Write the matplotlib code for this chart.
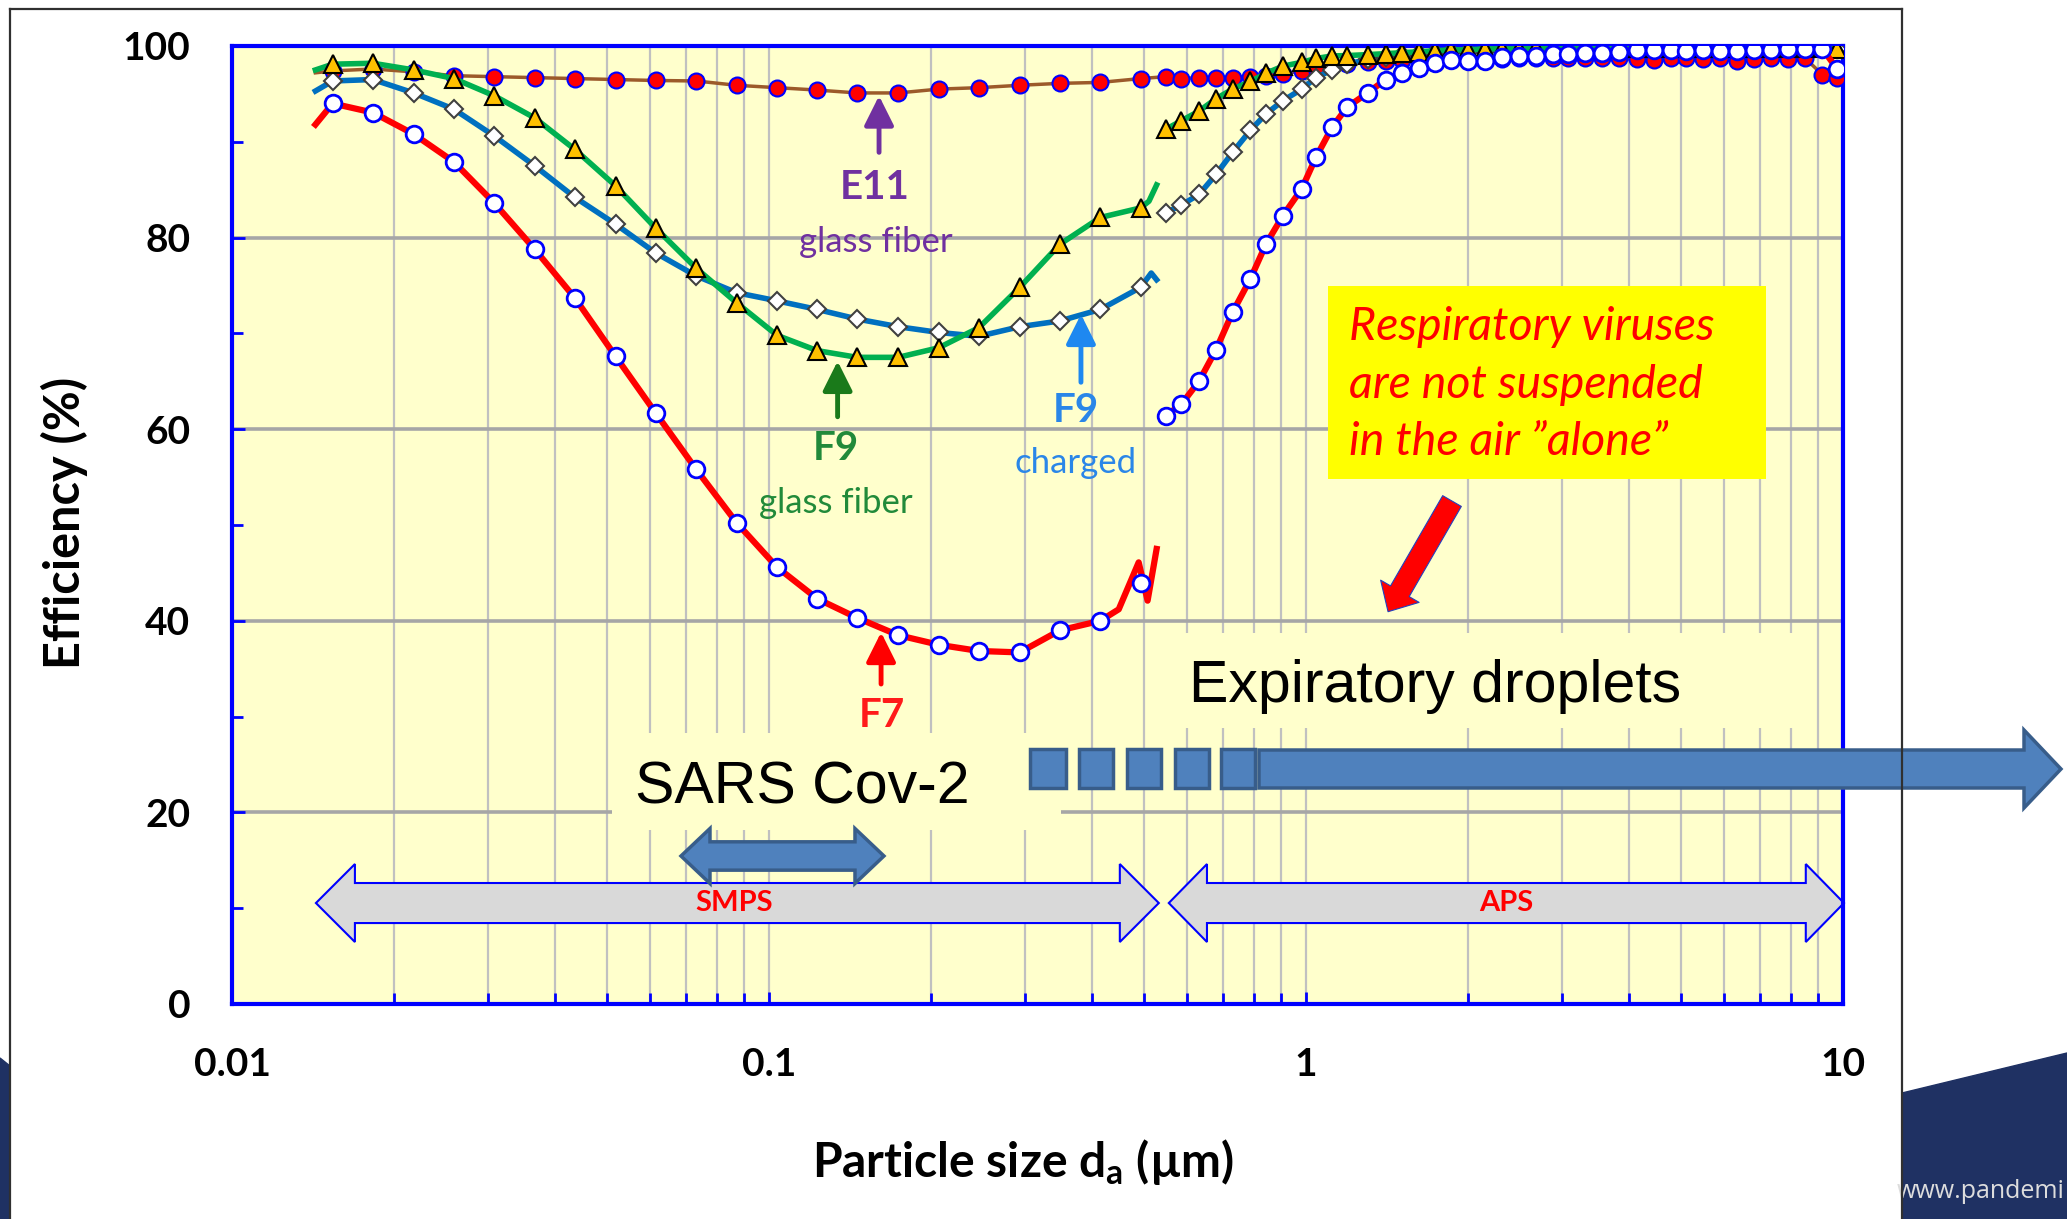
import matplotlib.pyplot as plt
from matplotlib.patches import Polygon, Rectangle, FancyArrowPatch
from matplotlib.lines import Line2D
from matplotlib.ticker import FixedLocator, LogLocator, NullFormatter

plt.rcParams['font.family'] = ['Lato', 'DejaVu Sans']
plt.rcParams['mathtext.fontset'] = 'custom'
plt.rcParams['mathtext.rm'] = 'Lato:bold'

# ---- data ----
# SMPS size channels (um)
smps_d = [0.0154, 0.0183, 0.0218, 0.0259, 0.0308, 0.0366, 0.0435, 0.0518, 0.0615,
          0.0732, 0.0870, 0.1035, 0.123, 0.146, 0.174, 0.207, 0.246, 0.293, 0.348,
          0.414, 0.492]
e11_smps = [97.4, 97.6, 97.3, 96.9, 96.8, 96.7, 96.6, 96.5, 96.4, 96.35, 95.9, 95.65,
            95.4, 95.1, 95.1, 95.5, 95.65, 95.9, 96.1, 96.2, 96.6]
f9c_smps = [96.35, 96.5, 95.1, 93.4, 90.6, 87.5, 84.2, 81.4, 78.4, 76.0, 74.25, 73.4,
            72.5, 71.5, 70.7, 70.1, 69.7, 70.7, 71.3, 72.5, 74.8]
f9g_smps = [98.1, 98.2, 97.5, 96.6, 94.8, 92.5, 89.2, 85.4, 81.0, 76.8, 73.2, 69.8,
            68.2, 67.5, 67.5, 68.5, 70.6, 74.8, 79.3, 82.1, 83.1]
f7_smps = [94.0, 93.05, 90.8, 87.9, 83.6, 78.8, 73.7, 67.6, 61.7, 55.8, 50.25, 45.6,
           42.3, 40.3, 38.5, 37.5, 36.85, 36.7, 39.0, 40.0, 43.9]

# line ends outside the marker channels
line_start_d = 0.0143
e11_start, f9c_start, f9g_start, f7_start = 97.2, 95.3, 97.5, 91.8
f7_tail_d = [0.448, 0.488, 0.507, 0.527]
f7_tail = [41.2, 46.1, 42.1, 47.5]
f9g_tail_d = [0.510, 0.527]
f9g_tail = [83.8, 85.5]
f9c_tail_d = [0.515, 0.527]
f9c_tail = [76.3, 75.6]

# APS size channels (um)
aps_d = [0.548, 0.586, 0.632, 0.680, 0.730, 0.788, 0.842, 0.906, 0.982, 1.044, 1.118,
         1.192, 1.302, 1.407, 1.508, 1.623, 1.735, 1.860, 2.001, 2.153, 2.317, 2.495,
         2.685, 2.888, 3.076, 3.311, 3.562, 3.835, 4.127, 4.441, 4.779, 5.091, 5.477,
         5.897, 6.345, 6.830, 7.346, 7.909, 8.511, 9.158, 9.754]
e11_aps = [96.8, 96.6, 96.7, 96.7, 96.7, 96.8, 96.9, 97.1, 97.4, 97.7, 97.9, 98.1,
           98.3, 98.4, 98.5, 98.5, 98.6, 98.6, 98.6, 98.6, 98.6, 98.7, 98.7, 98.7,
           98.7, 98.7, 98.7, 98.7, 98.6, 98.5, 98.7, 98.7, 98.6, 98.7, 98.4, 98.6,
           98.7, 98.6, 98.7, 97.0, 96.7]
f9c_aps = [82.6, 83.4, 84.5, 86.6, 88.9, 91.2, 92.9, 94.3, 95.5, 96.7, 97.5, 98.1,
           98.6, 98.9, 99.1, 99.2, 99.3, 99.4, 99.4, 99.5, 99.5, 99.5, 99.6, 99.6,
           99.6, 99.6, 99.6, 99.6, 99.7, 99.7, 99.7, 99.7, 99.7, 99.7, 99.7, 99.7,
           99.7, 99.7, 99.7, 99.7, 99.7]
f9g_aps = [91.3, 92.2, 93.2, 94.5, 95.5, 96.3, 97.15, 97.9, 98.3, 98.7, 98.96, 99.0,
           99.1, 99.2, 99.3, 99.4, 99.5, 99.6, 99.6, 99.7, 99.7, 99.7, 99.8, 99.8,
           99.8, 99.8, 99.8, 99.8, 99.8, 99.8, 99.8, 99.8, 99.8, 99.8, 99.8, 99.8,
           99.8, 99.8, 99.8, 99.8, 99.7]
f7_aps = [61.4, 62.6, 65.0, 68.3, 72.2, 75.7, 79.3, 82.3, 85.1, 88.4, 91.5, 93.6,
          95.1, 96.5, 97.15, 97.7, 98.2, 98.5, 98.4, 98.45, 98.8, 98.96, 99.0, 99.2,
          99.2, 99.24, 99.24, 99.4, 99.6, 99.6, 99.6, 99.5, 99.6, 99.5, 99.5, 99.6,
          99.6, 99.7, 99.7, 99.7, 97.6]

x_ticks = [0.01, 0.1, 1, 10]
x_tick_labels = ['0.01', '0.1', '1', '10']
y_ticks = [0, 20, 40, 60, 80, 100]

W, H = 2067, 1219
fig = plt.figure(figsize=(W / 100, H / 100), dpi=100)
fig.patch.set_facecolor('white')
ax = fig.add_axes([232 / W, 1 - 1004 / H, 1611 / W, 958 / H])
ax.set_facecolor('#FFFFCC')


def fpt(x, y):
    # pixel position on the slide -> figure fraction
    return (x / W, 1 - y / H)


# ---- slide decoration ----
fig.add_artist(Polygon([fpt(1902, 1093), fpt(2067, 1053), fpt(2067, 1219), fpt(1902, 1219)],
                       closed=True, transform=fig.transFigure, color='#1F3163', zorder=0))
fig.add_artist(Polygon([fpt(0, 1058), fpt(10, 1066), fpt(10, 1219), fpt(0, 1219)],
                       closed=True, transform=fig.transFigure, color='#1F3163', zorder=0))
fig.text(1897 / W, 1 - 1198 / H, 'www.pandemi', color='#DDDDDD', fontsize=18,
         family=['Open Sans', 'DejaVu Sans'], ha='left', va='baseline')

# ---- axes ----
ax.set_xscale('log')
ax.set_xlim(0.01, 10)
ax.set_ylim(0, 100)
ax.xaxis.set_major_locator(FixedLocator(x_ticks))
ax.set_xticklabels(x_tick_labels)
ax.xaxis.set_minor_locator(LogLocator(base=10, subs=range(2, 10)))
ax.xaxis.set_minor_formatter(NullFormatter())
ax.set_yticks(y_ticks)
ax.set_yticks([10, 30, 50, 70, 90], minor=True)
ax.set_axisbelow(True)
ax.grid(which='both', axis='x', color='#C0C0C0', lw=1.6)
ax.grid(which='major', axis='y', color='#A6A6A6', lw=2.6)
for s in ax.spines.values():
    s.set_color('#0000FF')
    s.set_linewidth(3)
ax.tick_params(axis='both', which='both', direction='in', color='#0000FF', width=2,
               labelsize=28, labelcolor='black')
ax.tick_params(axis='both', which='major', length=9)
ax.tick_params(axis='both', which='minor', length=8)
ax.tick_params(axis='y', pad=30)
ax.tick_params(axis='x', pad=31)
for lab in ax.get_xticklabels() + ax.get_yticklabels():
    lab.set_fontweight('bold')

fig.text(0.0314, 0.571, 'Efficiency (%)', rotation=90, ha='center', va='center',
         fontsize=35, fontweight='bold')
fig.text(1023 / W, 0.0468, r'Particle size d$_\mathrm{a}$ (µm)', ha='center', va='center',
         fontsize=34.5, fontweight='bold')

# ---- background boxes ----
ax.add_patch(Rectangle((0.2356, 0.1816), 0.279, 0.1013, transform=ax.transAxes,
                       facecolor='#FFFFCC', edgecolor='none', zorder=1))
ax.add_patch(Rectangle((0.576, 0.2881), 0.4035, 0.0992, transform=ax.transAxes,
                       facecolor='#FFFFCC', edgecolor='none', zorder=1))
ax.add_patch(Rectangle((0.6806, 0.548), 0.2715, 0.2015, transform=ax.transAxes,
                       facecolor='#FFFF00', edgecolor='none', zorder=1))


def darrow(x0, x1, yc, hb, hh, hl, **kw):
    pts = [(x0, yc), (x0 + hl, yc + hh), (x0 + hl, yc + hb), (x1 - hl, yc + hb),
           (x1 - hl, yc + hh), (x1, yc), (x1 - hl, yc - hh), (x1 - hl, yc - hb),
           (x0 + hl, yc - hb), (x0 + hl, yc - hh)]
    ax.add_patch(Polygon(pts, closed=True, transform=ax.transAxes, clip_on=False, **kw))


darrow(0.0521, 0.5753, 0.1054, 0.0209, 0.0407, 0.0242,
       facecolor='#D9D9D9', edgecolor='#0000FF', lw=1.5, zorder=1.5)
darrow(0.5815, 1.0006, 0.1054, 0.0209, 0.0407, 0.0237,
       facecolor='#D9D9D9', edgecolor='#0000FF', lw=1.5, zorder=1.5)
darrow(0.2787, 0.4047, 0.1545, 0.0148, 0.0287, 0.018,
       facecolor='#4F81BD', edgecolor='#385D8A', lw=2.5, zorder=2)
ax.text(0.3117, 0.1054, 'SMPS', transform=ax.transAxes, color='#FF0000', fontsize=21,
        fontweight='bold', ha='center', va='center', zorder=2)
ax.text(0.7908, 0.1054, 'APS', transform=ax.transAxes, color='#FF0000', fontsize=21,
        fontweight='bold', ha='center', va='center', zorder=2)

ax.text(0.2502, 0.2098, 'SARS Cov-2', transform=ax.transAxes, fontsize=42.5,
        family=['Liberation Sans', 'DejaVu Sans'], ha='left', va='baseline', zorder=2)
ax.text(0.594, 0.3156, 'Expiratory droplets', transform=ax.transAxes, fontsize=42.5,
        family=['Liberation Sans', 'DejaVu Sans'], ha='left', va='baseline', zorder=2)

resp_lines = ['Respiratory viruses', 'are not suspended', 'in the air \u201dalone\u201d']
for txt, yb in zip(resp_lines, [0.6931, 0.6326, 0.5731]):
    ax.text(0.6934, yb, txt, transform=ax.transAxes, color='#FF0000', fontsize=33.5,
            style='italic', ha='left', va='baseline', zorder=2)

ax.add_patch(FancyArrowPatch((0.7573, 0.525), (0.7176, 0.4095), transform=ax.transAxes,
                             arrowstyle='simple,head_length=1.7,head_width=3.2,tail_width=1.55',
                             mutation_scale=10, shrinkA=0, shrinkB=0,
                             facecolor='#FF0000', edgecolor='#2040C0', lw=0.8, zorder=2))

# droplet size arrow (runs off the chart to the right)
for x0, x1 in [(1029.5, 1066), (1078.6, 1113), (1126.8, 1161), (1174.5, 1209), (1220.5, 1255)]:
    fig.add_artist(Rectangle(fpt(x0, 788), (x1 - x0) / W, 39 / H, transform=fig.transFigure,
                             facecolor='#4F81BD', edgecolor='#385D8A', lw=2.5, zorder=2))
fig.add_artist(Polygon([fpt(1259, 750), fpt(2024, 750), fpt(2024, 730), fpt(2061, 769),
                        fpt(2024, 808), fpt(2024, 788), fpt(1259, 788)], closed=True,
                       transform=fig.transFigure, facecolor='#4F81BD', edgecolor='#385D8A',
                       lw=2.5, zorder=2))

# slide frame
fcol = '#303030'
fig.add_artist(Line2D([10 / W, 10 / W], [0, 1 - 9 / H], color=fcol, lw=1.6, zorder=5))
fig.add_artist(Line2D([10 / W, 1902 / W], [1 - 9 / H, 1 - 9 / H], color=fcol, lw=1.6, zorder=5))
fig.add_artist(Line2D([1902 / W, 1902 / W], [0, 1 - 9 / H], color=fcol, lw=1.6, zorder=5))

# ---- curves ----
ax.plot([line_start_d] + smps_d + aps_d, [e11_start] + e11_smps + e11_aps,
        color='#9C5A2A', lw=2.5, zorder=3)
ax.plot(smps_d + aps_d, e11_smps + e11_aps, ls='none', marker='o', ms=11.5,
        mfc='#FF0000', mec='#0000FF', mew=1.5, zorder=3.1)

ax.plot([line_start_d] + smps_d + f9c_tail_d, [f9c_start] + f9c_smps + f9c_tail,
        color='#0070C0', lw=4, zorder=3.2)
ax.plot(aps_d, f9c_aps, color='#0070C0', lw=4, zorder=3.2)
ax.plot(smps_d + aps_d, f9c_smps + f9c_aps, ls='none', marker='D', ms=9,
        mfc='white', mec='#404040', mew=1.5, zorder=3.3)

ax.plot([line_start_d] + smps_d + f9g_tail_d, [f9g_start] + f9g_smps + f9g_tail,
        color='#00B050', lw=4, zorder=3.4)
ax.plot(aps_d, f9g_aps, color='#00B050', lw=4, zorder=3.4)
ax.plot(smps_d + aps_d, f9g_smps + f9g_aps, ls='none', marker='^', ms=13,
        mfc='#FFC000', mec='black', mew=1.5, zorder=3.5)

ax.plot([line_start_d] + smps_d[:-1] + f7_tail_d, [f7_start] + f7_smps[:-1] + f7_tail,
        color='#FF0000', lw=4.5, zorder=3.6)
ax.plot(aps_d, f7_aps, color='#FF0000', lw=4.5, zorder=3.6)
ax.plot(smps_d + aps_d, f7_smps + f7_aps, ls='none', marker='o', ms=12,
        mfc='white', mec='#0000FF', mew=2, zorder=3.7)

# ---- curve labels ----
def label_arrow(x, y0, y1, col):
    ax.annotate('', xy=(x, y1), xytext=(x, y0),
                arrowprops=dict(arrowstyle='-|>,head_length=0.9,head_width=0.45', lw=3.5,
                                color=col, shrinkA=0, shrinkB=0, mutation_scale=20), zorder=4)


label_arrow(0.1603, 88.9, 94.8, '#7030A0')
ax.text(0.1575, 85.2, 'E11', color='#7030A0', fontsize=29, fontweight='bold', ha='center', va='center', zorder=4)
ax.text(0.158, 79.5, 'glass fiber', color='#7030A0', fontsize=25, ha='center', va='center', zorder=4)

label_arrow(0.1342, 61.3, 67.1, '#1A7A1A')
ax.text(0.1334, 58.0, 'F9', color='#218A3A', fontsize=29, fontweight='bold', ha='center', va='center', zorder=4)
ax.text(0.1334, 52.3, 'glass fiber', color='#218A3A', fontsize=25, ha='center', va='center', zorder=4)

label_arrow(0.381, 64.9, 72.0, '#1E88F0')
ax.text(0.373, 62.0, 'F9', color='#2A86E8', fontsize=29, fontweight='bold', ha='center', va='center', zorder=4)
ax.text(0.373, 56.5, 'charged', color='#2A86E8', fontsize=25, ha='center', va='center', zorder=4)

label_arrow(0.1617, 33.4, 38.8, '#FF0000')
ax.text(0.1621, 30.1, 'F7', color='#FF1A1A', fontsize=29, fontweight='bold', ha='center', va='center', zorder=4)

fig.savefig('out.png', dpi=100, facecolor='white')
